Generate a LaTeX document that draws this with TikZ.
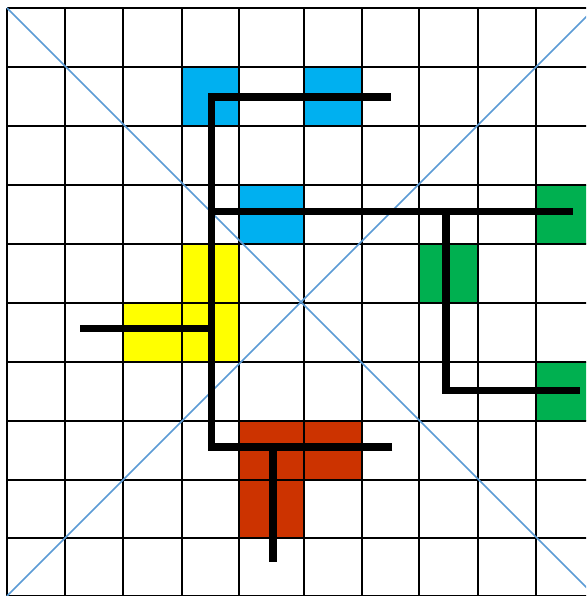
\documentclass[tikz,border=0pt]{standalone}
\begin{document}
\begin{tikzpicture}[x=1pt,y=-1pt,
  gridline/.style={line width=2pt,black},
  diag/.style={line width=1.5pt,color=diagblue},
  wall/.style={line width=7.3pt,black,line cap=butt,line join=miter},
  bluecell/.style={fill=cellblue},
  yellowcell/.style={fill=cellyellow},
  greencell/.style={fill=cellgreen},
  redcell/.style={fill=cellred}]
\definecolor{cellblue}{HTML}{00B0F0}
\definecolor{cellyellow}{HTML}{FFFF00}
\definecolor{cellgreen}{HTML}{00B050}
\definecolor{cellred}{HTML}{CC3300}
\definecolor{diagblue}{HTML}{5B9BD5}
\useasboundingbox (0,0) rectangle (586,596);
\clip (0,0) rectangle (586,596);
\fill[white] (0,0) rectangle (586,596);
% coloured cells
\fill[bluecell] (181.7,67) rectangle (239.3,126);
\fill[bluecell] (303.5,67) rectangle (361.8,126);
\fill[bluecell] (239.3,185) rectangle (303.5,244);
\fill[yellowcell] (181.7,244) rectangle (239.3,362);
\fill[yellowcell] (123.3,302.5) rectangle (181.7,362);
\fill[greencell] (536,185) rectangle (595,244);
\fill[greencell] (419.3,244) rectangle (477.8,302.5);
\fill[greencell] (536,362) rectangle (595,420.5);
\fill[redcell] (239.3,420.5) rectangle (361.8,479.5);
\fill[redcell] (239.3,479.5) rectangle (303.5,538);
% grid
\foreach \gx in {7,65,123.3,181.7,239.3,303.5,361.8,419.3,477.8,536,595}
  \draw[gridline] (\gx,8) -- (\gx,596);
\foreach \gy in {8,67,126,185,244,302.5,362,420.5,479.5,538,596}
  \draw[gridline] (7,\gy) -- (595,\gy);
% diagonals
\coordinate (tl) at (7,8);
\coordinate (br) at (595,596);
\coordinate (bl) at (7,596);
\coordinate (tr) at (595,8);
\draw[diag] (tl) -- (br);
\draw[diag] (bl) -- (tr);
% black walls
\coordinate (a1) at (392.3,447);
\coordinate (a2) at (211.3,447);
\coordinate (a3) at (211.3,97);
\coordinate (a4) at (390.7,97);
\coordinate (b1) at (211.3,211.5);
\coordinate (b2) at (572.7,211.5);
\coordinate (c1) at (446,211.5);
\coordinate (c2) at (446,390.3);
\coordinate (c3) at (580,390.3);
\coordinate (d1) at (80,328.8);
\coordinate (d2) at (211.3,328.8);
\coordinate (e1) at (273,447);
\coordinate (e2) at (273,562.3);
\draw[wall] (a1) -- (a2) -- (a3) -- (a4);
\draw[wall] (b1) -- (b2);
\draw[wall] (c1) -- (c2) -- (c3);
\draw[wall] (d1) -- (d2);
\draw[wall] (e1) -- (e2);
\end{tikzpicture}
\end{document}
